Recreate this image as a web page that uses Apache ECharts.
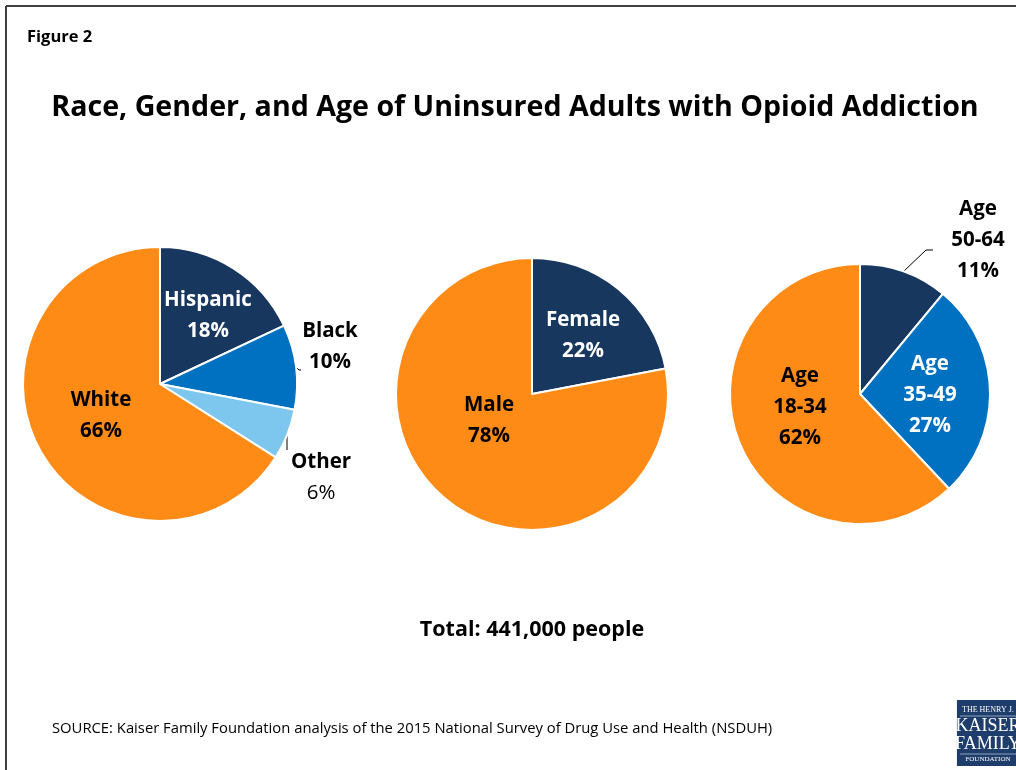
<!DOCTYPE html>
<html><head><meta charset="utf-8">
<script src="https://cdn.jsdelivr.net/npm/echarts@6/dist/echarts.min.js"></script>
<style>html,body{margin:0;padding:0;background:#fff}#c{width:1016px;height:770px}</style>
</head><body><div id="c"></div>
<script>
const raceCats = ['Hispanic', 'Black', 'Other', 'White'];
const raceVals = [18, 10, 6, 66];
const genderCats = ['Female', 'Male'];
const genderVals = [22, 78];
const ageCats = ['Age\n50-64', 'Age\n35-49', 'Age\n18-34'];
const ageVals = [11, 27, 62];

const NAVY = '#17375E', BLUE = '#0070C0', LIGHT = '#7DC6EE', ORANGE = '#FF8B17';
const FONT = '"Open Sans", Lato, sans-serif';

const raceColors = [NAVY, BLUE, LIGHT, ORANGE];
const genderColors = [NAVY, ORANGE];
const ageColors = [NAVY, BLUE, ORANGE];

// label placement (style/layout, not data)
const raceLabelPos = [[208, 316], [330, 347], [321, 478], [101, 416]];
const raceInside = [true, false, false, true];
const raceLines = [null, [[296, 367], [299, 370], [301, 370]], [[287, 436], [287, 450], [287, 450]], null];
const genderLabelPos = [[583, 336], [489, 421]];
const ageLabelPos = [[978, 240], [930, 395], [800, 407]];
const ageInside = [false, true, true];
const ageLines = [[[903, 272], [926, 250], [933, 250]], null, null];

function makeData(cats, vals, colors, inside, textColors, plainValue) {
  return cats.map((c, i) => ({
    name: c,
    value: vals[i],
    itemStyle: { color: colors[i] },
    label: {
      position: inside[i] ? 'inside' : 'outside',
      color: textColors[i],
      formatter: (p) => {
        const parts = p.name.split('\n').map(s => '{b|' + s + '}');
        parts.push((plainValue && plainValue[i] ? '{n|' : '{b|') + p.value + '%}');
        return parts.join('\n');
      },
      rich: {
        b: { fontFamily: FONT, fontWeight: 'bold', fontSize: 20.5, lineHeight: 31, color: textColors[i] },
        n: { fontFamily: FONT, fontWeight: 'normal', fontSize: 20.5, lineHeight: 31, color: textColors[i] }
      }
    },
    labelLine: { show: !inside[i], lineStyle: { color: '#000', width: 1 } }
  }));
}

function layoutFn(posArr, lines) {
  return function (p) {
    const pos = posArr[p.dataIndex];
    const r = { x: pos[0], y: pos[1], align: 'center', verticalAlign: 'middle' };
    if (lines && lines[p.dataIndex]) r.labelLinePoints = lines[p.dataIndex];
    return r;
  };
}

const common = {
  type: 'pie',
  startAngle: 90,
  clockwise: true,
  avoidLabelOverlap: false,
  itemStyle: { borderColor: '#fff', borderWidth: 2 },
  emphasis: { disabled: true },
  animation: false
};

const chart = echarts.init(document.getElementById('c'), null, { renderer: 'canvas' });
chart.setOption({
  backgroundColor: '#fff',
  animation: false,
  title: [
    { text: 'Figure 2', left: 22, top: 24, textStyle: { fontFamily: FONT, fontWeight: 'bold', fontSize: 16.5, color: '#000' } },
    { text: 'Race, Gender, and Age of Uninsured Adults with Opioid Addiction', left: 510, textAlign: 'center', top: 88,
      textStyle: { fontFamily: FONT, fontWeight: 'bold', fontSize: 28.6, color: '#000' } },
    { text: 'Total: 441,000 people', left: 527, textAlign: 'center', top: 614,
      textStyle: { fontFamily: FONT, fontWeight: 'bold', fontSize: 21.5, color: '#000' } },
    { text: 'SOURCE: Kaiser Family Foundation analysis of the 2015 National Survey of Drug Use and Health (NSDUH)', left: 47, top: 716,
      textStyle: { fontFamily: FONT, fontWeight: 'normal', fontSize: 14.8, color: '#000' } }
  ],
  series: [
    Object.assign({}, common, {
      center: [160, 384], radius: 137,
      data: makeData(raceCats, raceVals, raceColors, raceInside, ['#fff', '#000', '#000', '#000'], [false, false, true, false]),
      labelLayout: layoutFn(raceLabelPos, raceLines)
    }),
    Object.assign({}, common, {
      center: [532, 394], radius: 136,
      data: makeData(genderCats, genderVals, genderColors, [true, true], ['#fff', '#000']),
      labelLayout: layoutFn(genderLabelPos, null)
    }),
    Object.assign({}, common, {
      center: [860, 394], radius: 130,
      data: makeData(ageCats, ageVals, ageColors, ageInside, ['#000', '#fff', '#000']),
      labelLayout: layoutFn(ageLabelPos, ageLines)
    })
  ],
  graphic: [
    { type: 'line', shape: { x1: 6, y1: 6, x2: 1016, y2: 6 }, style: { stroke: '#404040', lineWidth: 2 } },
    { type: 'line', shape: { x1: 6, y1: 6, x2: 6, y2: 770 }, style: { stroke: '#404040', lineWidth: 2 } },
    { type: 'group', left: 955, top: 700, children: [
      { type: 'rect', shape: { x: 0, y: 0, width: 62, height: 66 }, style: { fill: '#1E3D6B' } },
      { type: 'text', x: 31, y: 6, style: { text: 'THE HENRY J.', fill: '#fff', font: '8px "Liberation Serif", serif', align: 'center' } },
      { type: 'line', shape: { x1: 3, y1: 16, x2: 62, y2: 16 }, style: { stroke: '#8fa3c0', lineWidth: 1 } },
      { type: 'text', x: 31, y: 17, style: { text: 'KAISER', fill: '#fff', font: '18px "Liberation Serif", serif', align: 'center' } },
      { type: 'text', x: 31, y: 35, style: { text: 'FAMILY', fill: '#fff', font: '18px "Liberation Serif", serif', align: 'center' } },
      { type: 'line', shape: { x1: 3, y1: 54, x2: 62, y2: 54 }, style: { stroke: '#8fa3c0', lineWidth: 1 } },
      { type: 'text', x: 31, y: 56, style: { text: 'FOUNDATION', fill: '#fff', font: '7px "Liberation Serif", serif', align: 'center' } }
    ] }
  ]
});
</script>
</body></html>
